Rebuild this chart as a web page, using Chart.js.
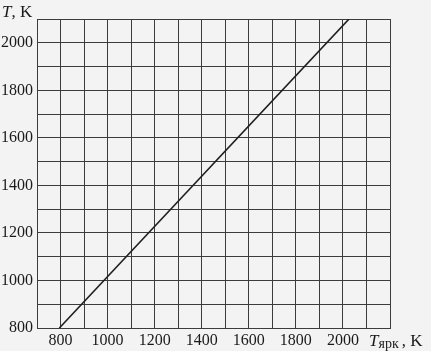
<!DOCTYPE html>
<html>
<head>
<meta charset="utf-8">
<script src="https://cdn.jsdelivr.net/npm/chart.js@4/dist/chart.umd.min.js"></script>
<style>
html,body{margin:0;padding:0;background:#f3f3f3;}
#wrap{width:431px;height:351px;position:relative;}
</style>
</head>
<body>
<div id="wrap"><canvas id="c" width="431" height="351"></canvas></div>
<script>
// Data
const brightnessTemp = [795, 2026];   // T_ярк, K
const trueTemp = [800, 2100];         // T, K
const xTickLabels = [800, 1000, 1200, 1400, 1600, 1800, 2000];
const yTickLabels = [800, 1000, 1200, 1400, 1600, 1800, 2000];
const yAxisTitle = 'T';
const xAxisTitleMain = 'T';
const xAxisTitleSub = 'ярк';
const unitText = ', K';

const points = brightnessTemp.map((v, i) => ({x: v, y: trueTemp[i]}));
const serif = '"Liberation Serif", "DejaVu Serif", serif';
const gridColor = '#3c3c3c';

const titlesPlugin = {
  id: 'titles',
  afterDraw(chart) {
    const ctx = chart.ctx;
    ctx.save();
    ctx.fillStyle = '#1a1a1a';
    ctx.textBaseline = 'alphabetic';
    // y-axis title
    ctx.font = 'italic 17px ' + serif;
    ctx.fillText(yAxisTitle, 2, 17);
    let w = ctx.measureText(yAxisTitle).width;
    ctx.font = '17px ' + serif;
    ctx.fillText(unitText, 2 + w, 17);
    // x-axis title
    let x = 369, y = 346;
    ctx.font = 'italic 17px ' + serif;
    ctx.fillText(xAxisTitleMain, x, y);
    x += ctx.measureText(xAxisTitleMain).width;
    ctx.font = '14px ' + serif;
    ctx.fillText(xAxisTitleSub, x, y + 2);
    x += ctx.measureText(xAxisTitleSub).width + 3;
    ctx.font = '17px ' + serif;
    ctx.fillText(unitText, x, y);
    ctx.restore();
  }
};

new Chart(document.getElementById('c'), {
  type: 'scatter',
  data: {
    datasets: [{
      data: points,
      showLine: true,
      borderColor: '#1e1e1e',
      borderWidth: 1.6,
      pointRadius: 0,
      fill: false
    }]
  },
  options: {
    responsive: false,
    animation: false,
    devicePixelRatio: 1,
    layout: {padding: {left: 0, right: 41, top: 19, bottom: 0}},
    plugins: {legend: {display: false}, tooltip: {enabled: false}},
    scales: {
      x: {
        type: 'linear', min: 700, max: 2200,
        afterFit(s) { s.height = 23; },
        grid: {color: gridColor, lineWidth: 1, drawTicks: false},
        border: {color: gridColor, width: 1},
        ticks: {
          stepSize: 100, padding: 3, maxRotation: 0, autoSkip: false,
          color: '#1a1a1a', font: {family: serif, size: 16},
          callback: v => xTickLabels.includes(v) ? String(v) : ''
        }
      },
      y: {
        type: 'linear', min: 800, max: 2100,
        afterFit(s) { s.width = 37; },
        grid: {color: gridColor, lineWidth: 1, drawTicks: false},
        border: {color: gridColor, width: 1},
        ticks: {
          stepSize: 100, padding: 4, autoSkip: false,
          color: '#1a1a1a', font: {family: serif, size: 16},
          callback: v => yTickLabels.includes(v) ? String(v) : ''
        }
      }
    }
  },
  plugins: [titlesPlugin]
});
</script>
</body>
</html>
